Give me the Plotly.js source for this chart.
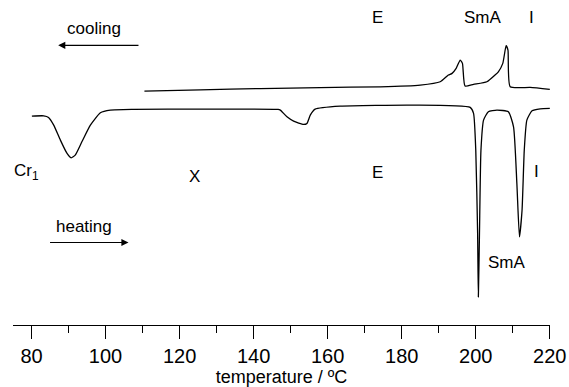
<!DOCTYPE html>
<html>
<head>
<meta charset="utf-8">
<script src="https://cdn.plot.ly/plotly-3.0.1.min.js"></script>
<style>html,body{margin:0;padding:0;background:#fff;}#chart{width:569px;height:387px;}</style>
</head>
<body>
<div id="chart"></div>
<script>
// Cooling run (temperature / °C, heat flow a.u.)
const coolingT = [110.5, 125.6, 141.8, 158.0, 174.2, 185.0, 190.4, 192.6, 193.6, 194.7, 195.8, 196.4, 197.1, 199.4, 203.0, 205.2, 206.1, 207.3, 208.2, 208.7, 209.3, 214.7, 220.0];
const coolingQ = [23.37, 23.50, 23.62, 23.72, 23.80, 23.97, 24.30, 24.97, 25.14, 25.64, 26.47, 26.14, 23.87, 24.04, 24.30, 24.97, 25.30, 26.14, 27.90, 27.47, 23.80, 23.74, 23.54];

// Heating run
const heatingT = [80.1, 83.3, 84.6, 86.0, 87.8, 89.6, 90.7, 91.8, 93.6, 95.9, 98.6, 101.3, 107.6, 125.6, 146.6, 147.2, 149.0, 150.8, 153.5, 154.4, 155.3, 156.6, 163.4, 183.1, 198.5, 199.4, 200.0, 200.5, 200.7, 201.0, 201.4, 202.1, 203.4, 205.7, 208.8, 210.2, 211.1, 211.8, 212.5, 213.1, 213.8, 215.2, 217.4, 220.0];
const heatingQ = [20.87, 20.90, 20.74, 19.97, 18.47, 17.14, 16.70, 16.97, 18.30, 19.97, 21.20, 21.47, 21.54, 21.57, 21.54, 21.47, 20.80, 20.37, 20.04, 20.14, 20.97, 21.57, 21.87, 21.97, 21.74, 21.14, 17.47, 9.14, 2.80, 9.14, 17.47, 20.47, 21.30, 21.47, 21.30, 19.80, 14.14, 8.80, 11.47, 17.47, 20.47, 21.40, 21.60, 21.64];

// Phase labels
const phaseLabels = ["E", "SmA", "I", "Cr<sub>1</sub>", "X", "E", "I", "SmA"];
const phaseLabelT = [173.4, 202.0, 215.0, 78.6, 124.1, 173.4, 216.5, 208.5];
const phaseLabelQ = [30.77, 30.77, 30.77, 15.27, 14.87, 15.22, 15.32, 6.22];

const xTickVals = [80, 100, 120, 140, 160, 180, 200, 220];

const font = "Liberation Sans, Arial, Helvetica, sans-serif";
const lineStyle = {color: "#000", width: 1.3, shape: "spline", smoothing: 0.5};

const traces = [
  {x: coolingT, y: coolingQ, mode: "lines", line: lineStyle, name: "cooling", hoverinfo: "skip"},
  {x: heatingT, y: heatingQ, mode: "lines", line: lineStyle, name: "heating", hoverinfo: "skip"}
];

const annotations = phaseLabels.map((t, i) => ({
  text: t, x: phaseLabelT[i], y: phaseLabelQ[i], xref: "x", yref: "y",
  showarrow: false, font: {family: font, size: 17, color: "#000"},
  xanchor: "center", yanchor: "middle"
}));

annotations.push(
  {text: "cooling", x: 97.0, y: 29.67, xref: "x", yref: "y", showarrow: false,
   font: {family: font, size: 17, color: "#000"}, xanchor: "center", yanchor: "middle"},
  {text: "", x: 87.2, y: 27.94, ax: 109.3, ay: 27.94, xref: "x", yref: "y", axref: "x", ayref: "y",
   showarrow: true, arrowhead: 2, arrowsize: 1.3, arrowwidth: 1.1, arrowcolor: "#000"},
  {text: "heating", x: 94.25, y: 9.87, xref: "x", yref: "y", showarrow: false,
   font: {family: font, size: 17, color: "#000"}, xanchor: "center", yanchor: "middle"},
  {text: "", x: 106.2, y: 8.24, ax: 84.6, ay: 8.24, xref: "x", yref: "y", axref: "x", ayref: "y",
   showarrow: true, arrowhead: 2, arrowsize: 1.3, arrowwidth: 1.1, arrowcolor: "#000"}
);

const layout = {
  width: 569, height: 387,
  margin: {l: 13, r: 19, t: 0, b: 62},
  paper_bgcolor: "#fff", plot_bgcolor: "#fff",
  showlegend: false,
  xaxis: {
    range: [75, 220.05], showgrid: false, zeroline: false,
    showline: true, linecolor: "#000", linewidth: 1.3,
    tickmode: "array", tickvals: xTickVals, ticktext: xTickVals.map(String),
    ticks: "outside", ticklen: 13, tickwidth: 1.3, tickcolor: "#000",
    minor: {dtick: 10, tick0: 80, ticks: "outside", ticklen: 7, tickwidth: 1.3, tickcolor: "#000", showgrid: false},
    tickfont: {family: font, size: 20, color: "#000"},
    title: {text: "temperature / ºC", font: {family: font, size: 18, color: "#000"}, standoff: 6},
    automargin: false, fixedrange: true
  },
  yaxis: {range: [0, 32.47], visible: false, fixedrange: true},
  annotations: annotations
};

Plotly.newPlot("chart", traces, layout, {staticPlot: true, displayModeBar: false});
</script>
</body>
</html>
